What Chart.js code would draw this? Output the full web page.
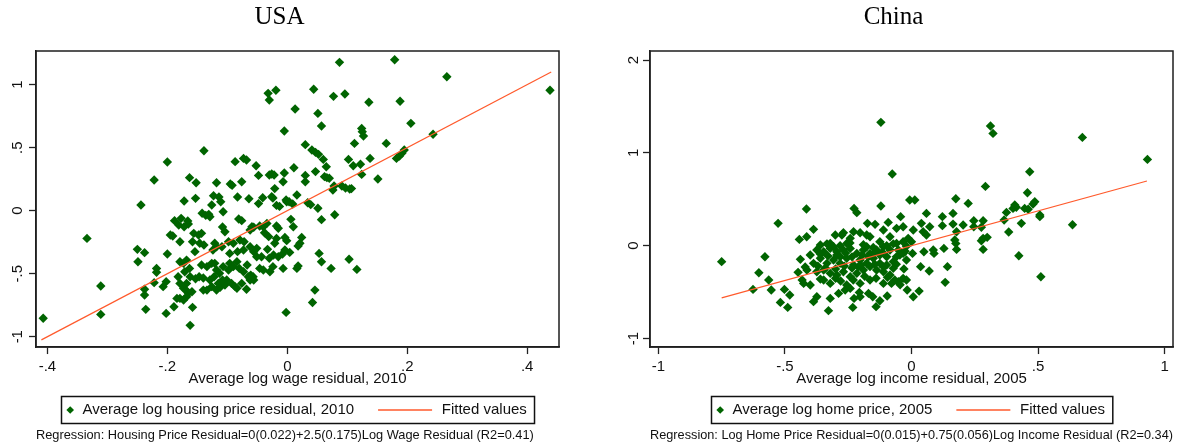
<!DOCTYPE html>
<html><head><meta charset="utf-8">
<script src="https://cdn.jsdelivr.net/npm/chart.js@4.4.1/dist/chart.umd.min.js"></script>
<style>
html,body{margin:0;padding:0;background:#fff;}
#wrap{position:relative;width:1190px;height:448px;overflow:hidden;background:#fff;}
canvas{position:absolute;top:0;}
#c1{left:0;}
#c2{left:614px;}
</style></head><body>
<div id="wrap"><canvas id="c1" width="568" height="448"></canvas><canvas id="c2" width="570" height="448"></canvas></div>
<script>
// ---------- USA data ----------
const usaX = [
 -0.407,-0.334,-0.311,-0.311,-0.250,-0.238,-0.249,-0.244,-0.222,-0.200,
 -0.139,-0.236,-0.238,-0.238,-0.202,-0.162,-0.200,-0.218,-0.218,-0.222,
 -0.207,-0.189,-0.032,-0.019,-0.030,-0.005,-0.087,-0.073,-0.068,-0.052,
 -0.048,-0.030,-0.026,-0.022,-0.005,-0.163,-0.152,-0.118,-0.095,-0.092,
 -0.076,-0.021,-0.007,-0.153,-0.172,-0.123,-0.114,-0.111,-0.107,-0.083,
 -0.064,-0.048,-0.041,-0.026,-0.024,-0.018,-0.013,-0.001,-0.126,-0.142,
 -0.136,-0.129,-0.131,-0.188,-0.177,-0.181,-0.172,-0.166,-0.081,-0.076,
 -0.108,-0.059,-0.062,-0.056,-0.046,-0.040,-0.038,-0.034,-0.031,-0.018,
 -0.015,-0.018,-0.021,-0.004,-0.195,-0.191,-0.179,-0.165,-0.156,-0.148,
 -0.143,-0.146,-0.139,-0.158,-0.154,-0.121,-0.124,-0.118,-0.109,-0.104,
 -0.098,-0.090,-0.079,-0.072,-0.096,-0.083,-0.073,-0.062,-0.056,-0.051,
 -0.051,-0.043,-0.033,-0.030,-0.023,-0.015,-0.008,-0.004,-0.179,-0.173,
 -0.168,-0.163,-0.171,-0.162,-0.153,-0.147,-0.140,-0.168,-0.143,-0.134,
 -0.126,-0.121,-0.118,-0.113,-0.107,-0.098,-0.096,-0.090,-0.084,-0.080,
 -0.073,-0.067,-0.065,-0.061,-0.056,-0.046,-0.040,-0.029,-0.024,-0.007,
 -0.182,-0.179,-0.173,-0.169,-0.165,-0.159,-0.184,-0.179,-0.173,-0.168,
 -0.158,-0.140,-0.134,-0.126,-0.118,-0.112,-0.104,-0.101,-0.093,-0.087,
 -0.084,-0.076,-0.068,-0.129,-0.122,-0.115,-0.108,-0.062,-0.057,-0.002,
 -0.202,
 0.087,0.179,0.266,0.438,0.044,0.077,0.096,0.136,0.188,0.013,
 0.051,0.057,0.206,0.124,0.125,0.127,0.243,0.112,0.165,0.030,
 0.041,0.047,0.052,0.060,0.065,0.102,0.110,0.122,0.138,0.182,
 0.187,0.191,0.195,0.011,0.030,0.030,0.047,0.062,0.066,0.070,
 0.124,0.151,0.076,0.078,0.091,0.097,0.104,0.107,0.016,-0.002,
 0.003,0.009,0.034,0.039,0.051,0.079,0.006,0.010,0.057,-0.001,
 0.004,0.024,0.021,0.018,0.016,0.018,0.053,0.057,0.073,0.103,
 0.116,0.046,0.042
];
const usaY = [
 -0.854,-0.220,-0.598,-0.823,-0.307,-0.333,-0.405,0.045,0.243,0.386,
 0.476,-0.783,-0.624,-0.669,-0.815,-0.910,-0.344,-0.458,-0.489,-0.571,
 -0.603,-0.762,0.931,0.955,0.878,0.632,0.389,0.415,0.402,0.357,
 0.280,0.283,0.291,0.283,0.299,0.262,0.222,0.222,0.212,0.201,
 0.230,0.175,0.230,0.098,0.077,0.119,0.108,0.071,-0.008,0.108,
 0.095,0.056,0.103,0.111,0.101,0.042,0.034,0.071,0.045,-0.021,
 -0.037,-0.048,-0.029,-0.079,-0.061,-0.114,-0.127,-0.082,-0.066,-0.079,
 -0.130,-0.127,-0.153,-0.132,-0.122,-0.127,-0.175,-0.101,-0.206,-0.122,
 -0.140,-0.220,-0.259,-0.212,-0.193,-0.201,-0.246,-0.106,-0.180,-0.193,
 -0.180,-0.259,-0.272,-0.246,-0.325,-0.259,-0.312,-0.286,-0.286,-0.167,
 -0.246,-0.259,-0.233,-0.246,-0.339,-0.325,-0.312,-0.286,-0.325,-0.299,
 -0.365,-0.365,-0.307,-0.378,-0.352,-0.365,-0.344,-0.312,-0.405,-0.418,
 -0.392,-0.458,-0.484,-0.524,-0.540,-0.524,-0.534,-0.577,-0.431,-0.444,
 -0.418,-0.418,-0.471,-0.497,-0.444,-0.471,-0.418,-0.444,-0.405,-0.458,
 -0.484,-0.431,-0.524,-0.511,-0.550,-0.458,-0.471,-0.484,-0.444,-0.458,
 -0.524,-0.577,-0.616,-0.630,-0.656,-0.643,-0.696,-0.696,-0.709,-0.683,
 -0.767,-0.630,-0.630,-0.603,-0.630,-0.608,-0.590,-0.550,-0.577,-0.603,
 -0.616,-0.577,-0.624,-0.550,-0.524,-0.577,-0.550,-0.550,-0.524,-0.807,
 -0.563,
 1.177,1.198,1.063,0.955,0.963,0.907,0.926,0.860,0.868,0.807,
 0.772,0.672,0.693,0.653,0.627,0.593,0.606,0.534,0.534,0.524,
 0.481,0.463,0.447,0.407,0.349,0.407,0.357,0.368,0.415,0.415,
 0.434,0.455,0.481,0.341,0.280,0.230,0.310,0.270,0.262,0.257,
 0.288,0.251,0.164,0.196,0.196,0.180,0.172,0.175,0.124,0.085,
 0.071,0.053,0.063,0.048,0.019,-0.032,-0.069,-0.127,-0.071,-0.238,
 -0.331,-0.212,-0.259,-0.280,-0.458,-0.439,-0.339,-0.405,-0.458,-0.386,
 -0.466,-0.630,-0.728
];
const usaFitX = [-0.41, 0.44];
const usaFitY = [-1.025, 1.10];
const usaXTicks = [-0.4, -0.2, 0, 0.2, 0.4];
const usaYTicks = [-1, -0.5, 0, 0.5, 1];

// ---------- China data ----------
const chinaX = [
 -0.121,-0.076,-0.750,-0.527,-0.579,-0.603,-0.626,-0.564,-0.554,-0.518,
 -0.489,-0.502,-0.481,-0.415,-0.387,-0.443,-0.414,-0.439,-0.448,-0.432,
 -0.387,-0.374,-0.328,-0.321,-0.288,-0.262,-0.232,-0.227,-0.203,-0.206,
 -0.170,-0.153,-0.140,-0.125,-0.096,-0.017,-0.227,-0.216,-0.121,-0.174,
 -0.144,-0.092,-0.043,
 -0.301,-0.269,-0.229,-0.203,-0.164,-0.111,-0.059,-0.033,
 -0.374,-0.347,-0.321,-0.295,-0.269,-0.242,-0.216,-0.190,-0.164,-0.138,-0.111,-0.085,-0.059,-0.033,-0.013,
 -0.387,-0.360,-0.334,-0.308,-0.282,-0.256,-0.229,-0.203,-0.177,-0.151,-0.125,-0.098,-0.072,-0.046,-0.020,
 -0.413,-0.374,-0.347,-0.321,-0.295,-0.269,-0.242,-0.216,-0.190,-0.164,-0.138,-0.111,-0.085,-0.066,-0.052,-0.033,
 -0.426,-0.400,-0.347,-0.321,-0.256,-0.242,-0.203,-0.164,-0.111,-0.079,-0.020,
 -0.256,-0.177,-0.125,-0.085,-0.242,-0.321,-0.282,-0.210,-0.125,-0.072,-0.170,-0.275,-0.177,-0.098,-0.052,-0.033,
 -0.360,-0.334,-0.308,-0.282,-0.243,-0.190,-0.151,-0.098,-0.072,-0.020,
 -0.400,-0.360,-0.330,-0.295,-0.260,-0.235,-0.195,-0.150,-0.115,-0.060,-0.025,
 -0.420,-0.370,-0.340,-0.300,-0.265,-0.235,-0.200,-0.145,-0.110,-0.060,-0.030,
 -0.360,-0.300,-0.280,-0.230,-0.185,-0.140,-0.095,-0.045,
 0.312,0.322,0.675,0.932,0.467,0.292,-0.007,0.013,0.175,0.458,
 0.224,0.408,0.401,0.414,0.447,0.461,0.487,0.480,0.375,0.059,
 0.122,0.122,0.164,0.039,0.072,0.046,0.059,0.164,0.204,0.178,
 0.246,0.283,0.246,0.276,0.366,0.384,0.434,0.507,0.507,0.636,
 0.283,0.299,0.276,0.283,0.171,0.175,0.178,0.128,0.086,0.089,
 0.049,0.424,0.511,0.036,0.070,0.142,0.133,0.007,0.030,0.007,
 0.000,0.004
];
const chinaY = [
 1.329,0.772,-0.172,0.241,-0.119,-0.291,-0.471,-0.370,-0.478,-0.611,
 -0.665,-0.471,-0.532,0.395,0.176,0.068,0.097,-0.147,-0.287,-0.370,
 -0.603,-0.550,-0.700,-0.568,-0.514,-0.478,-0.665,-0.568,-0.550,-0.503,
 -0.514,-0.550,-0.657,-0.593,-0.542,-0.478,0.402,0.356,0.427,0.241,
 0.230,0.251,0.313,
 0.115,0.140,0.151,0.140,0.097,0.169,0.187,0.205,
 -0.047,-0.065,-0.029,-0.065,-0.047,-0.029,-0.083,-0.047,-0.083,-0.047,-0.011,-0.047,0.025,0.043,0.079,
 -0.190,-0.136,-0.190,-0.154,-0.190,-0.136,-0.208,-0.154,-0.190,-0.136,-0.190,-0.119,-0.172,-0.101,-0.154,
 -0.262,-0.280,-0.262,-0.298,-0.316,-0.280,-0.334,-0.298,-0.262,-0.226,-0.262,-0.280,-0.316,-0.370,-0.388,-0.352,
 -0.406,-0.424,-0.370,-0.406,-0.424,-0.460,-0.406,-0.370,-0.406,-0.406,-0.370,
 0.025,-0.011,0.043,0.097,0.079,0.025,-0.119,-0.226,-0.101,-0.244,-0.119,0.115,0.115,-0.208,-0.047,-0.083,
 0.007,0.020,-0.010,0.000,0.030,0.010,-0.020,0.000,0.020,-0.005,
 -0.100,-0.090,-0.110,-0.100,-0.080,-0.120,-0.100,-0.090,-0.070,-0.120,-0.060,
 -0.230,-0.220,-0.240,-0.250,-0.220,-0.240,-0.210,-0.200,-0.230,-0.200,-0.250,
 -0.360,-0.350,-0.380,-0.370,-0.330,-0.350,-0.340,-0.420,
 1.290,1.210,1.167,0.930,0.797,0.639,0.492,0.492,0.506,0.571,
 0.456,0.438,0.402,0.413,0.402,0.392,0.474,0.449,0.359,0.348,
 0.313,0.216,0.348,0.241,0.205,0.151,0.115,0.233,0.223,0.151,
 0.269,0.269,0.205,0.198,0.277,0.147,0.241,0.330,0.313,0.226,
 0.079,0.090,0.054,-0.040,0.061,0.025,-0.040,-0.029,-0.047,-0.083,
 -0.065,-0.108,-0.334,-0.226,-0.273,-0.226,-0.395,-0.550,-0.489,0.169,
 0.043,-0.083
];
const chinaFitX = [-0.75, 0.93];
const chinaFitY = [-0.5625, 0.6975];
const chinaXTicks = [-1, -0.5, 0, 0.5, 1];
const chinaYTicks = [-1, 0, 1, 2];

// ---------- texts ----------
const usaTitle = 'USA';
const chinaTitle = 'China';
const usaXTitle = 'Average log wage residual, 2010';
const chinaXTitle = 'Average log income residual, 2005';
const usaSeries = 'Average log housing price residual, 2010';
const chinaSeries = 'Average log home price, 2005';
const fitLabel = 'Fitted values';
const usaNote = 'Regression: Housing Price Residual=0(0.022)+2.5(0.175)Log Wage Residual (R2=0.41)';
const chinaNote = 'Regression: Log Home Price Residual=0(0.015)+0.75(0.056)Log Income Residual (R2=0.34)';

// ---------- styling / helpers ----------
const SANS = '"Liberation Sans", Arial, sans-serif';
const SERIF = '"Liberation Serif", "Times New Roman", serif';
const GREEN = '#006400';
const ORANGE = '#ff5a2c';
const INK = '#111';

const fmt = v => {
  if (Math.abs(v) < 1e-9) return '0';
  return String(+v.toFixed(2)).replace(/^(-?)0\./, '$1.');
};

const framePlugin = {
  id: 'frame',
  afterDraw(chart) {
    const {ctx, chartArea: a} = chart;
    ctx.save();
    ctx.strokeStyle = '#1e1e1e';
    ctx.lineWidth = 1.5;
    ctx.strokeRect(a.left, a.top, a.right - a.left, a.bottom - a.top);
    ctx.restore();
  }
};

const boxLegendPlugin = {
  id: 'boxLegend',
  afterDraw(chart) {
    const ds = chart.data.datasets;
    const sc = ds.find(d => d.type === 'scatter');
    const ln = ds.find(d => d.type === 'line');
    const ctx = chart.ctx, a = chart.chartArea;
    ctx.save();
    ctx.font = '15px ' + SANS;
    const w1 = ctx.measureText(sc.label).width;
    const w2 = ctx.measureText(ln.label).width;
    const padL = 8.7, gapM = 12.3, gapI = 24, lineLen = 54, gapL = 9.7, padR = 7.7;
    const W = padL + gapM + w1 + gapI + lineLen + gapL + w2 + padR;
    const left = Math.round((a.left + a.right) / 2 - W / 2) + 0.5;
    const top = 396.5, h = 27, cy = top + h / 2;
    ctx.strokeStyle = INK; ctx.lineWidth = 1.5;
    ctx.strokeRect(left, top, W, h);
    let x = left + padL;
    const r = 3.8;
    ctx.fillStyle = sc.backgroundColor;
    ctx.beginPath();
    ctx.moveTo(x, cy - r); ctx.lineTo(x + r, cy); ctx.lineTo(x, cy + r); ctx.lineTo(x - r, cy);
    ctx.closePath(); ctx.fill();
    x += gapM;
    ctx.fillStyle = INK; ctx.textBaseline = 'middle'; ctx.textAlign = 'left';
    ctx.fillText(sc.label, x, cy);
    x += w1 + gapI;
    ctx.strokeStyle = ln.borderColor; ctx.lineWidth = 1.5;
    ctx.beginPath(); ctx.moveTo(x, cy); ctx.lineTo(x + lineLen, cy); ctx.stroke();
    x += lineLen + gapL;
    ctx.fillText(ln.label, x, cy);
    ctx.restore();
  }
};

function makeChart(id, cfg) {
  const pts = cfg.xs.map((x, i) => ({x: x, y: cfg.ys[i]}));
  const fit = cfg.fx.map((x, i) => ({x: x, y: cfg.fy[i]}));
  const tickFont = {family: SANS, size: 15};
  const zeroPad = s => { s.paddingLeft = 0; s.paddingRight = 0; s.paddingTop = 0; s.paddingBottom = 0; };
  return new Chart(document.getElementById(id), {
    data: {
      datasets: [
        {type: 'scatter', label: cfg.series, data: pts, order: 2,
         pointStyle: 'rectRot', radius: 4.7, backgroundColor: GREEN, borderWidth: 0, hoverRadius: 4.7},
        {type: 'line', label: fitLabel, data: fit, order: 1,
         borderColor: ORANGE, borderWidth: 1.2, pointRadius: 0, fill: false, tension: 0}
      ]
    },
    options: {
      responsive: false, animation: false, devicePixelRatio: 1,
      layout: {padding: {left: 0, right: cfg.padRight, top: 0, bottom: 0}},
      plugins: {
        legend: {display: false},
        tooltip: {enabled: false},
        title: {display: true, text: cfg.title, color: '#000',
                font: {family: SERIF, size: 25, weight: 'normal'}, padding: {top: 2, bottom: 19}},
        subtitle: {display: true, text: cfg.note, position: 'bottom', align: 'start', fullSize: false,
                   color: INK, font: {family: SANS, size: 12.8, weight: 'normal'},
                   padding: {top: 39.3, bottom: 5.3}}
      },
      scales: {
        x: {
          type: 'linear', position: 'bottom', min: cfg.xmin, max: cfg.xmax,
          afterBuildTicks: s => { s.ticks = cfg.xTicks.map(v => ({value: v})); },
          afterFit: s => { s.height = 41; zeroPad(s); },
          ticks: {callback: v => fmt(v), font: tickFont, color: INK, padding: 4, maxRotation: 0, autoSkip: false},
          grid: {drawOnChartArea: false, drawTicks: true, tickLength: 7, tickColor: '#222', tickWidth: 1.3},
          border: {display: true, color: '#222', width: 1.5},
          title: {display: true, text: cfg.xTitle, color: INK, font: {family: SANS, size: 15}, padding: {top: 0, bottom: 0}}
        },
        y: {
          type: 'linear', position: 'left', min: cfg.ymin, max: cfg.ymax,
          afterBuildTicks: s => { s.ticks = cfg.yTicks.map(v => ({value: v})); },
          afterFit: s => { s.width = 36; zeroPad(s); },
          ticks: {callback: v => fmt(v), font: tickFont, color: INK, padding: 2,
                  minRotation: 90, maxRotation: 90, crossAlign: 'center', autoSkip: false},
          grid: {drawOnChartArea: false, drawTicks: true, tickLength: 7, tickColor: '#222', tickWidth: 1.3},
          border: {display: true, color: '#222', width: 1.5}
        }
      }
    },
    plugins: [framePlugin, boxLegendPlugin]
  });
}

makeChart('c1', {
  xs: usaX, ys: usaY, fx: usaFitX, fy: usaFitY, xTicks: usaXTicks, yTicks: usaYTicks,
  xmin: -0.419, xmax: 0.453, ymin: -1.082, ymax: 1.267,
  title: usaTitle, xTitle: usaXTitle, series: usaSeries, note: usaNote, padRight: 9
});
makeChart('c2', {
  xs: chinaX, ys: chinaY, fx: chinaFitX, fy: chinaFitY, xTicks: chinaXTicks, yTicks: chinaYTicks,
  xmin: -1.033, xmax: 1.033, ymin: -1.092, ymax: 2.098,
  title: chinaTitle, xTitle: chinaXTitle, series: chinaSeries, note: chinaNote, padRight: 11
});
</script>
</body></html>
